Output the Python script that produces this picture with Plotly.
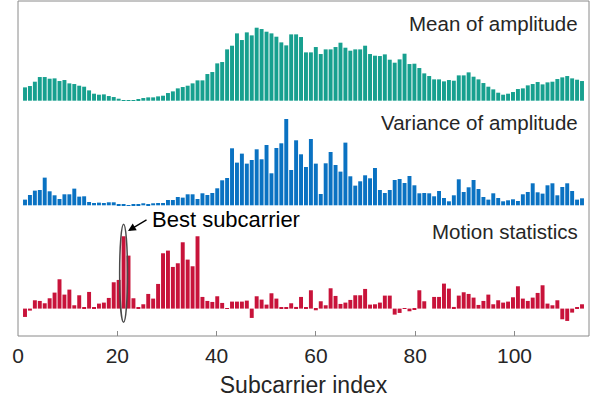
import plotly.graph_objects as go

# ---------------- data ----------------
subcarrier = list(range(1, 115))

mean_amp = [40, 44, 57, 71, 71, 66, 67, 59, 62, 52,
            50, 45, 42, 31, 21, 18, 19, 14, 11, 6,
            2, 1, 2, 5, 8, 10, 10, 13, 15, 23,
            28, 37, 41, 45, 52, 61, 61, 80, 86, 112,
            116, 154, 165, 202, 182, 205, 196, 219, 215, 207,
            202, 192, 175, 166, 199, 199, 191,
            145, 145, 161, 140, 154, 154, 161, 174, 159, 150,
            154, 154, 165, 140, 135, 134, 139, 123, 114, 124,
            141, 110, 111, 98, 82, 74, 64, 64, 58, 62,
            60, 76, 76, 85, 72, 64, 53, 42, 34, 24,
            18, 21, 26, 35, 37, 46, 50, 56, 49, 55,
            57, 65, 70, 74, 67, 63, 59]

var_amp = [17, 31, 44, 46, 83, 42, 30, 19, 33, 33,
           50, 26, 27, 10, 7, 8, 7, 9, 9, 4,
           1, 0.5, 1, 3, 6, 4, 6, 7, 7, 16,
           16, 25, 23, 33, 33, 19, 36, 31, 37, 51,
           75, 82, 171, 128, 155, 125, 136, 168, 138, 181,
           96, 172, 186, 259, 106, 195, 153,
           115, 199, 125, 34, 126, 160, 121, 101, 188, 87,
           59, 72, 90, 81, 112, 46, 37, 46, 76, 79,
           67, 88, 60, 36, 37, 36, 27, 43, 22, 12,
           30, 78, 40, 54, 76, 49, 25, 17, 36, 22,
           12, 15, 18, 13, 33, 40, 66, 39, 35, 60,
           66, 30, 55, 66, 43, 17, 21]

motion_stat = [-25, -6, 25, 23, 16, 31, 48, 88, 42, 57,
               10, 40, 4, 50, 4, 15, 18, 32, 79, 86,
               217, 159, 31, 4, 13, 44, 30, 74, 166, 174,
               125, 136, 199, 147, 127, 217, 35, 23, 20, 37,
               17, 1, 21, 21, 21, 24, -28, 37, 27, 12,
               46, 30, 3, 3, 16, 5, 35,
               3, 55, -5, 22, 10, 61, 38, 14, 18, 26,
               40, 40, 59, 12, 13, 18, 39, 39, -18, -13,
               -1, -8, -3, 55, 22, 0, 35, 35, 75, 60,
               5, 39, 49, 44, 33, 11, 23, 42, 13, 25,
               18, 21, 34, 67, 30, 23, 33, 47, 70, 15,
               10, 25, -32, -37, -12, 2, 13]

x_ticks = [0, 20, 40, 60, 80, 100]
panel_titles = ["Mean of amplitude", "Variance of amplitude", "Motion statistics"]
best_subcarrier = 21
x_title = "Subcarrier index"

# ---------------- layout geometry ----------------
W, H = 599, 400
ML, MR, MT, MB = 18, 10, 1, 64
plot_h = H - MT - MB
units_per_px = 3.0
span = plot_h * units_per_px


def panel_range(baseline_px):
    top = (baseline_px - MT) * units_per_px
    return [top - span, top]


mean_rng = panel_range(100.7)
var_rng = panel_range(205.3)
mot_rng = panel_range(308.6)

TEAL = "#17A08F"
BLUE = "#0A72C2"
RED = "#C8133A"
TXT = "#262626"
FRAME = "#8a8a8a"
FONT = "Liberation Sans, Arial, sans-serif"

fig = go.Figure()
fig.add_trace(go.Bar(x=subcarrier, y=mean_amp, xaxis="x", yaxis="y3",
                     marker=dict(color=TEAL, line=dict(width=0)), width=0.8))
fig.add_trace(go.Bar(x=subcarrier, y=var_amp, xaxis="x", yaxis="y2",
                     marker=dict(color=BLUE, line=dict(width=0)), width=0.8))
fig.add_trace(go.Bar(x=subcarrier, y=motion_stat, xaxis="x", yaxis="y",
                     marker=dict(color=RED, line=dict(width=0)), width=0.8))

fig.update_layout(
    width=W, height=H,
    margin=dict(l=ML, r=MR, t=MT, b=MB, pad=0),
    paper_bgcolor="white", plot_bgcolor="white",
    showlegend=False, barmode="overlay",
    font=dict(family=FONT, color=TXT),
    # axis carrying the bars (slightly different scale from the tick axis)
    xaxis=dict(range=[-0.42, 115.42], showticklabels=False, ticks="", showgrid=False,
               zeroline=False, showline=False, anchor="y"),
    # visible tick axis at the bottom
    xaxis2=dict(range=[0, 115], tickvals=x_ticks, ticks="inside", ticklen=5,
                tickcolor=FRAME, showgrid=False, zeroline=False, showline=False,
                tickfont=dict(size=21, color=TXT, family=FONT), ticklabelstandoff=5,
                title=dict(text=x_title, font=dict(size=23, color=TXT, family=FONT), standoff=10),
                overlaying="x", side="bottom", anchor="y"),
    # mirrored ticks on top
    xaxis3=dict(range=[0, 115], tickvals=x_ticks, ticks="inside", ticklen=5,
                tickcolor=FRAME, showticklabels=False, showgrid=False, zeroline=False,
                overlaying="x", side="top", anchor="y"),
    yaxis=dict(range=mot_rng, visible=False),
    yaxis2=dict(range=var_rng, visible=False, overlaying="y"),
    yaxis3=dict(range=mean_rng, visible=False, overlaying="y"),
)

# frame
fig.add_shape(type="rect", xref="paper", yref="paper", x0=0, x1=1, y0=0, y1=1,
              line=dict(color=FRAME, width=1), fillcolor="rgba(0,0,0,0)", layer="above")

# panel titles
fig.add_annotation(text=panel_titles[0], xref="x2", yref="y3", x=113.1, y=233,
                   xanchor="right", yanchor="middle", showarrow=False,
                   font=dict(size=20.5, color=TXT, family=FONT))
fig.add_annotation(text=panel_titles[1], xref="x2", yref="y2", x=113.1, y=248,
                   xanchor="right", yanchor="middle", showarrow=False,
                   font=dict(size=20.5, color=TXT, family=FONT))
fig.add_annotation(text=panel_titles[2], xref="x2", yref="y", x=113.1, y=231,
                   xanchor="right", yanchor="middle", showarrow=False,
                   font=dict(size=20.5, color=TXT, family=FONT))

# best subcarrier ellipse + arrow + label
fig.add_shape(type="circle", xref="x", yref="y",
              x0=best_subcarrier - 0.8, x1=best_subcarrier + 0.8, y0=-41, y1=253,
              line=dict(color="#4a4a4a", width=1.5), layer="above")
fig.add_annotation(text="", xref="x", yref="y", x=best_subcarrier + 0.9, y=233,
                   ax=20, ay=-12, showarrow=True, arrowhead=2, arrowsize=1.2,
                   arrowwidth=1.3, arrowcolor="black")
fig.add_annotation(text="Best subcarrier", xref="x", yref="y", x=best_subcarrier + 5.3, y=267,
                   xanchor="left", yanchor="middle", showarrow=False,
                   font=dict(size=22, color="black", family=FONT))

fig.write_html("out.html")
